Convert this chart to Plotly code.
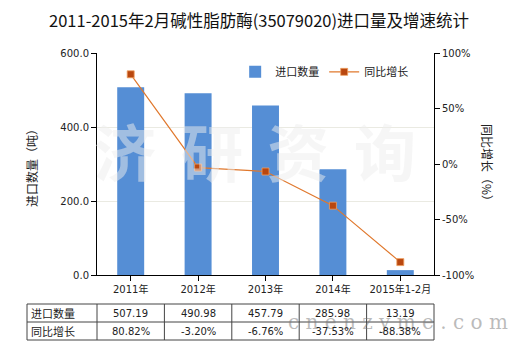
import plotly.graph_objects as go

# 数据
categories = ["2011年", "2012年", "2013年", "2014年", "2015年1-2月"]
import_qty = [507.19, 490.98, 457.79, 285.98, 13.19]
yoy_growth = [80.82, -3.20, -6.76, -37.53, -88.38]
row_names = ["进口数量", "同比增长"]
left_ticks = [0, 200, 400, 600]
right_ticks = [-100, -50, 0, 50, 100]

FONT = "DejaVu Sans, Noto Sans CJK SC, sans-serif"
CJK = "Noto Sans CJK SC, DejaVu Sans, sans-serif"
BAR_COLOR = "#558ED5"
LINE_COLOR = "#E0782D"
MARK_COLOR = "#B9470F"

fig = go.Figure()
fig.add_trace(go.Bar(
    x=categories, y=import_qty, name="进口数量",
    marker=dict(color=BAR_COLOR, line=dict(width=0)), width=0.4,
))
fig.add_trace(go.Scatter(
    x=categories, y=yoy_growth, name="同比增长", yaxis="y2",
    mode="lines+markers",
    line=dict(color=LINE_COLOR, width=1.2),
    marker=dict(symbol="square", size=7, color=MARK_COLOR,
                line=dict(color="#F0A060", width=0.8)),
))

# 网格与坐标轴
fig.update_layout(
    width=520, height=350,
    margin=dict(l=97, r=86, t=53, b=75),
    paper_bgcolor="white", plot_bgcolor="white",
    font=dict(family=FONT, size=10, color="#222"),
    showlegend=True,
    legend=dict(orientation="h", x=0.41, y=0.915, xanchor="left", yanchor="middle",
                bgcolor="rgba(0,0,0,0)", font=dict(family=CJK, size=11, color="#222"),
                itemwidth=30, tracegroupgap=0),
    bargap=0.6,
    xaxis=dict(
        type="category", range=[-0.5, 4.5],
        showline=True, linecolor="black", linewidth=1,
        ticks="outside", ticklen=5, tickcolor="black",
        tickfont=dict(family=FONT, size=10, color="#222"),
        showgrid=False, zeroline=False,
    ),
    yaxis=dict(
        range=[0, 600], tickvals=left_ticks,
        ticktext=[f"{v:.1f}" for v in left_ticks],
        showline=True, linecolor="black", linewidth=1,
        ticks="outside", ticklen=5, tickcolor="black",
        showgrid=True, gridcolor="#EAEAE2", gridwidth=1, zeroline=False,
        tickfont=dict(family=FONT, size=10, color="#222"),
    ),
    yaxis2=dict(
        overlaying="y", side="right", range=[-100, 100],
        tickvals=right_ticks, ticktext=[f"{v}%" for v in right_ticks],
        showline=True, linecolor="black", linewidth=1,
        ticks="outside", ticklen=5, tickcolor="black",
        showgrid=False, zeroline=False,
        tickfont=dict(family=FONT, size=10, color="#222"),
    ),
)

annotations = []
shapes = []

# 标题
annotations.append(dict(
    text="2011-2015年2月碱性脂肪酶(35079020)进口量及增速统计",
    xref="paper", yref="paper", x=(259 - 97) / 337, y=(275 - 20) / 222,
    xanchor="center", yanchor="middle", showarrow=False,
    font=dict(family=CJK, size=16.5, color="#111"),
))

# 轴标题
annotations.append(dict(
    text="进口数量（吨）", textangle=-90,
    xref="paper", yref="paper", x=(31 - 97) / 337, y=(275 - 165) / 222,
    xanchor="center", yanchor="middle", showarrow=False,
    font=dict(family=CJK, size=12, color="#222"),
))
annotations.append(dict(
    text="同比增长（%）", textangle=90,
    xref="paper", yref="paper", x=(488 - 97) / 337, y=(275 - 165) / 222,
    xanchor="center", yanchor="middle", showarrow=False,
    font=dict(family=CJK, size=12, color="#222"),
))

# 水印
for ch, px in zip("济研资询", [125, 212, 298, 385]):
    annotations.append(dict(
        text=f"<b>{ch}</b>", xref="paper", yref="paper",
        x=(px - 97) / 337, y=(275 - 150) / 222,
        xanchor="center", yanchor="middle", showarrow=False,
        font=dict(family=CJK, size=62, color="rgba(238,238,238,0.5)"),
    ))
annotations.append(dict(
    text="c n e n z y m e . c o m", xref="paper", yref="paper",
    x=(398 - 97) / 337, y=(275 - 322) / 222,
    xanchor="center", yanchor="middle", showarrow=False,
    font=dict(family="DejaVu Serif, serif", size=20, color="rgba(120,120,120,0.5)"),
))

# 数据表
def py(p):
    return (275 - p) / 222

top, mid, bot = py(304), py(322), py(340)
left = (27 - 97) / 337
line = dict(color="#444", width=1)
shapes.append(dict(type="rect", xref="paper", yref="paper", x0=left, x1=1,
                   y0=bot, y1=top, line=line))
shapes.append(dict(type="line", xref="paper", yref="paper", x0=left, x1=1,
                   y0=mid, y1=mid, line=line))
for i in range(len(categories)):
    xb = i / len(categories)
    shapes.append(dict(type="line", xref="paper", yref="paper", x0=xb, x1=xb,
                       y0=bot, y1=top, line=line))

for j, name in enumerate(row_names):
    yc = (top + mid) / 2 if j == 0 else (mid + bot) / 2
    annotations.append(dict(
        text=name, xref="paper", yref="paper", x=left + 0.005, y=yc,
        xanchor="left", yanchor="middle", showarrow=False,
        font=dict(family=CJK, size=11, color="#222"),
    ))
for i, cat in enumerate(categories):
    xc = (i + 0.5) / len(categories)
    annotations.append(dict(
        text=f"{import_qty[i]:.2f}", xref="paper", yref="paper", x=xc,
        y=(top + mid) / 2, xanchor="center", yanchor="middle", showarrow=False,
        font=dict(family=FONT, size=10, color="#222"),
    ))
    annotations.append(dict(
        text=f"{yoy_growth[i]:.2f}%", xref="paper", yref="paper", x=xc,
        y=(mid + bot) / 2, xanchor="center", yanchor="middle", showarrow=False,
        font=dict(family=FONT, size=10, color="#222"),
    ))

fig.update_layout(annotations=annotations, shapes=shapes)
fig.write_html("out.html")
